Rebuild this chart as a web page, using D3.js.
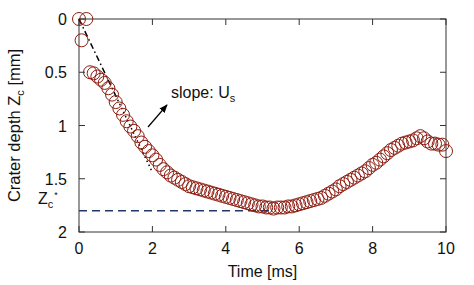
<!DOCTYPE html>
<html>
<head>
<meta charset="utf-8">
<script src="https://cdn.jsdelivr.net/npm/d3@7"></script>
<style>
  body { margin: 0; background: #fff; }
  text { font-family: "Liberation Sans", Arial, sans-serif; }
</style>
</head>
<body>
<script>
// crater depth vs time
const times = [0, 0.2, 0.07,
  0.3, 0.4, 0.5, 0.6, 0.7, 0.8, 0.9, 1.0, 1.1, 1.2, 1.3, 1.4, 1.5, 1.6, 1.7, 1.8, 1.9,
  2.0, 2.1, 2.2, 2.3, 2.4, 2.5, 2.6, 2.7, 2.8, 2.9, 3.0, 3.1, 3.2, 3.3, 3.4, 3.5, 3.6, 3.7, 3.8, 3.9,
  4.0, 4.1, 4.2, 4.3, 4.4, 4.5, 4.6, 4.7, 4.8, 4.9, 5.0, 5.1, 5.2, 5.3, 5.4, 5.5, 5.6, 5.7, 5.8, 5.9,
  6.0, 6.1, 6.2, 6.3, 6.4, 6.5, 6.6, 6.7, 6.8, 6.9, 7.0, 7.1, 7.2, 7.3, 7.4, 7.5, 7.6, 7.7, 7.8, 7.9,
  8.0, 8.1, 8.2, 8.3, 8.4, 8.5, 8.6, 8.7, 8.8, 8.9, 9.0, 9.1, 9.2, 9.3, 9.4, 9.5, 9.6, 9.7, 9.8, 9.9, 10.0];
const depths = [0, 0, 0.2,
  0.50, 0.51, 0.54, 0.57, 0.60, 0.65, 0.71, 0.78, 0.84, 0.90, 0.96, 1.01, 1.05, 1.10, 1.16, 1.20, 1.24,
  1.28, 1.32, 1.37, 1.41, 1.44, 1.47, 1.49, 1.51, 1.53, 1.55, 1.57, 1.58, 1.59, 1.60, 1.61, 1.62, 1.63, 1.64, 1.65, 1.66,
  1.67, 1.68, 1.69, 1.70, 1.71, 1.72, 1.73, 1.74, 1.75, 1.76, 1.76, 1.77, 1.77, 1.78, 1.77, 1.77, 1.77, 1.76, 1.76, 1.75,
  1.74, 1.73, 1.72, 1.71, 1.70, 1.69, 1.68, 1.66, 1.64, 1.62, 1.60, 1.57, 1.55, 1.53, 1.51, 1.49, 1.47, 1.45, 1.43, 1.40,
  1.37, 1.35, 1.32, 1.29, 1.26, 1.23, 1.21, 1.19, 1.17, 1.16, 1.15, 1.14, 1.12, 1.10, 1.12, 1.15, 1.17, 1.17, 1.18, 1.18, 1.24];

const xTicks = [0, 2, 4, 6, 8, 10];
const yTicks = [0, 0.5, 1, 1.5, 2];

const slopeT = [0, 1.0, 2.0];   // slope line, dash-dot then dotted
const slopeZ = [0, 0.72, 1.44];
const zStar = 1.80;
const zStarEnd = 5.3;

const width = 474, height = 285;
const margin = {top: 19, right: 28, bottom: 53, left: 79};

const svg = d3.select('body').append('svg')
  .attr('width', width)
  .attr('height', height);

const x = d3.scaleLinear().domain([0, 10]).range([margin.left, width - margin.right]);
const y = d3.scaleLinear().domain([0, 2]).range([margin.top, height - margin.bottom]);

const axisColor = '#333';
const fs = 16;

// frame
svg.append('rect')
  .attr('x', x(0)).attr('y', y(0))
  .attr('width', x(10) - x(0)).attr('height', y(2) - y(0))
  .attr('fill', 'none').attr('stroke', axisColor).attr('stroke-width', 1);

// inward ticks on all four sides
const tl = 6;
const g = svg.append('g').attr('stroke', axisColor).attr('stroke-width', 1);
xTicks.forEach(t => {
  g.append('line').attr('x1', x(t)).attr('x2', x(t)).attr('y1', y(2)).attr('y2', y(2) - tl);
  g.append('line').attr('x1', x(t)).attr('x2', x(t)).attr('y1', y(0)).attr('y2', y(0) + tl);
});
yTicks.forEach(v => {
  g.append('line').attr('x1', x(0)).attr('x2', x(0) + tl).attr('y1', y(v)).attr('y2', y(v));
  g.append('line').attr('x1', x(10)).attr('x2', x(10) - tl).attr('y1', y(v)).attr('y2', y(v));
});

svg.selectAll('.xl').data(xTicks).enter().append('text')
  .attr('x', d => x(d)).attr('y', y(2) + 22)
  .attr('text-anchor', 'middle').attr('font-size', fs).attr('fill', '#111')
  .text(d => d);

svg.selectAll('.yl').data(yTicks).enter().append('text')
  .attr('x', x(0) - 12).attr('y', d => y(d) + 6)
  .attr('text-anchor', 'end').attr('font-size', fs).attr('fill', '#111')
  .text(d => d);

// axis titles
svg.append('text')
  .attr('x', (x(0) + x(10)) / 2).attr('y', 277)
  .attr('text-anchor', 'middle').attr('font-size', fs).attr('fill', '#111')
  .text('Time [ms]');

const yt = svg.append('text')
  .attr('transform', `translate(20,${(y(0) + y(2)) / 2}) rotate(-90)`)
  .attr('text-anchor', 'middle').attr('font-size', 16.5).attr('fill', '#111');
yt.append('tspan').text('Crater depth Z');
yt.append('tspan').attr('font-size', 11).attr('dy', 4).text('c');
yt.append('tspan').attr('dy', -4).text(' [mm]');

// Zc* label
const zs = svg.append('text')
  .attr('x', 38).attr('y', y(zStar) - 7)
  .attr('font-size', fs).attr('fill', '#111');
zs.append('tspan').text('Z');
zs.append('tspan').attr('font-size', 11).attr('dy', 4).text('c');
zs.append('tspan').attr('font-size', 9).attr('dx', 1).attr('dy', -10).text('*');

// dashed Zc* line
svg.append('line')
  .attr('x1', x(0)).attr('x2', x(zStarEnd))
  .attr('y1', y(zStar)).attr('y2', y(zStar))
  .attr('stroke', '#1f3868').attr('stroke-width', 1.6)
  .attr('stroke-dasharray', '8,5');

// slope line
svg.append('line')
  .attr('x1', x(slopeT[0])).attr('y1', y(slopeZ[0]))
  .attr('x2', x(slopeT[1])).attr('y2', y(slopeZ[1]))
  .attr('stroke', '#000').attr('stroke-width', 1.5)
  .attr('stroke-dasharray', '6,3,1.5,3');
svg.append('line')
  .attr('x1', x(slopeT[1])).attr('y1', y(slopeZ[1]))
  .attr('x2', x(slopeT[2])).attr('y2', y(slopeZ[2]))
  .attr('stroke', '#000').attr('stroke-width', 1.5)
  .attr('stroke-dasharray', '1.5,3');

// data circles
svg.selectAll('circle').data(times).enter().append('circle')
  .attr('cx', d => x(d))
  .attr('cy', (d, i) => y(depths[i]))
  .attr('r', 6.5)
  .attr('fill', 'none')
  .attr('stroke', '#8e1c10')
  .attr('stroke-width', 1);

// arrow + annotation
svg.append('defs').append('marker')
  .attr('id', 'ah').attr('viewBox', '0 0 10 10')
  .attr('refX', 9).attr('refY', 5)
  .attr('markerWidth', 7).attr('markerHeight', 7)
  .attr('orient', 'auto')
  .append('path').attr('d', 'M0,1 L10,5 L0,9 Z').attr('fill', '#000');

svg.append('line')
  .attr('x1', 148).attr('y1', 127).attr('x2', 167).attr('y2', 105)
  .attr('stroke', '#000').attr('stroke-width', 1.2)
  .attr('marker-end', 'url(#ah)');

const an = svg.append('text')
  .attr('x', 171).attr('y', 98)
  .attr('font-size', fs).attr('fill', '#111');
an.append('tspan').text('slope: U');
an.append('tspan').attr('font-size', 11).attr('dy', 4).text('s');
</script>
</body>
</html>
